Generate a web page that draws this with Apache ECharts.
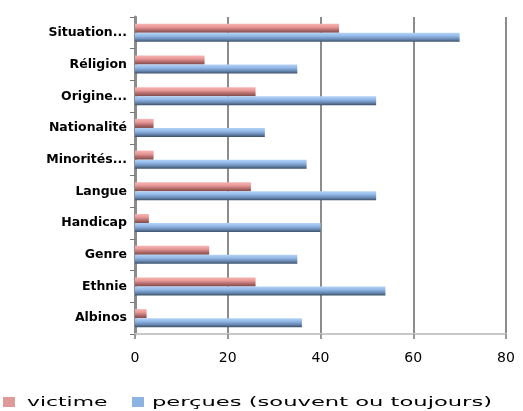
<!DOCTYPE html>
<html><head><meta charset="utf-8">
<script src="https://cdn.jsdelivr.net/npm/echarts@6/dist/echarts.min.js"></script>
<style>html,body{margin:0;padding:0;background:#fff}#c{width:523px;height:411px}</style>
</head><body><div id="c"></div>
<script>
const categories = ['Albinos','Ethnie','Genre','Handicap','Langue','Minorités...','Nationalité','Origine...','Réligion','Situation...'];
const victime = [2.5, 26, 16, 3, 25, 4, 4, 26, 15, 44];
const percues = [36, 54, 35, 40, 52, 37, 28, 52, 35, 70];
const xTicks = [0, 20, 40, 60, 80];
const seriesNames = ['victime', 'perçues (souvent ou toujours)'];
const legendColors = ['#dd9a99', '#8db3e2'];

const redGrad = new echarts.graphic.LinearGradient(0,0,0,1,[
  {offset:0,color:'#f7b3b2'},{offset:0.35,color:'#e89a98'},{offset:0.7,color:'#b06a69'},{offset:1,color:'#7d4a4a'}]);
const blueGrad = new echarts.graphic.LinearGradient(0,0,0,1,[
  {offset:0,color:'#b4d3f7'},{offset:0.35,color:'#93b9e8'},{offset:0.7,color:'#6a8ab4'},{offset:1,color:'#3c5068'}]);

function legendFor(i, left){
  return {
    top:392,left:left,padding:[5,0,5,0],itemWidth:12,itemHeight:10,icon:'rect',
    data:[{name:seriesNames[i],itemStyle:{color:legendColors[i]}}],
    formatter:function(){return '';},
    textStyle:{fontSize:1}
  };
}

const chart = echarts.init(document.getElementById('c'));
chart.setOption({
  animation:false,
  grid:{left:135,right:17,top:17,bottom:77,containLabel:false},
  legend:[legendFor(0,3), legendFor(1,132)],
  graphic:[
    {type:'text',x:27,y:403,scaleX:1.68,silent:true,
     style:{text:seriesNames[0],font:'13px "DejaVu Sans"',fill:'#000',verticalAlign:'middle'}},
    {type:'text',x:152,y:403,scaleX:1.74,silent:true,
     style:{text:seriesNames[1],font:'13px "DejaVu Sans"',fill:'#000',verticalAlign:'middle'}}
  ],
  xAxis:{
    type:'value',min:0,max:80,interval:20,
    axisLine:{show:true,lineStyle:{color:'#c8c8c8',width:2}},
    axisTick:{show:true,length:5,lineStyle:{color:'#999',width:2}},
    splitLine:{show:true,lineStyle:{color:'#8c8c8c',width:2}},
    axisLabel:{fontFamily:'DejaVu Sans',fontSize:14,color:'#000',margin:17}
  },
  yAxis:{
    type:'category',data:categories,
    axisLine:{show:true,lineStyle:{color:'#8c8c8c',width:3}},
    axisTick:{show:true,length:5,lineStyle:{color:'#777'}},
    axisLabel:{fontFamily:'DejaVu Sans',fontWeight:'bold',fontSize:12.5,color:'#000',margin:8}
  },
  series:[
    {name:seriesNames[0],type:'bar',data:victime,barWidth:9,barGap:'0%',itemStyle:{color:redGrad}},
    {name:seriesNames[1],type:'bar',data:percues,barWidth:9,barGap:'0%',itemStyle:{color:blueGrad}}
  ]
});
</script></body></html>
